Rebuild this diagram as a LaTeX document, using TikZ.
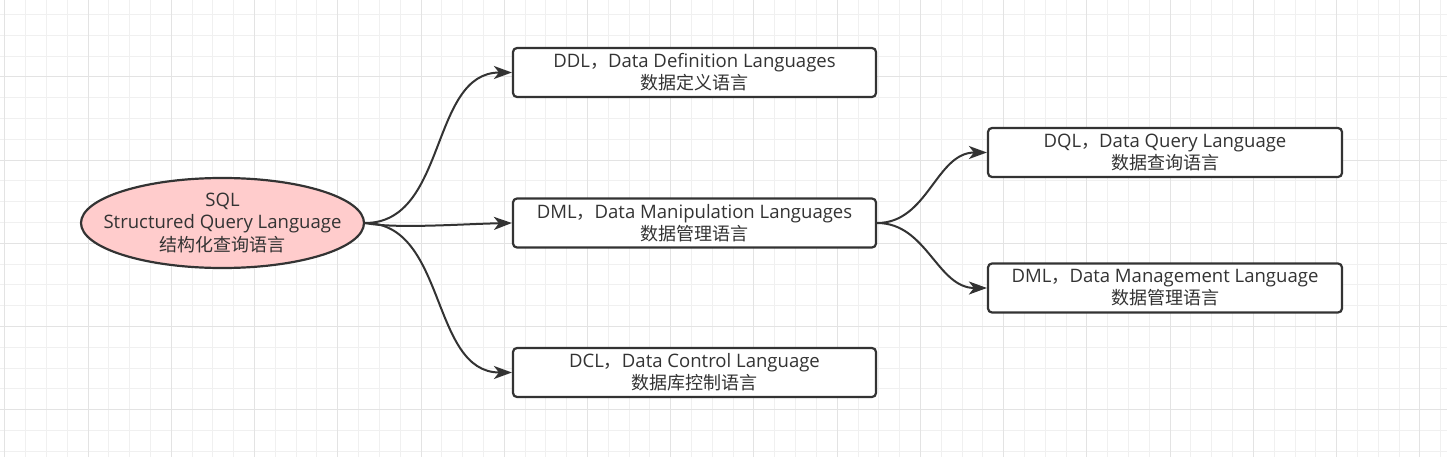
\documentclass[tikz,border=0pt]{standalone}
\usepackage{fontspec}
\setmainfont{Open Sans}[Scale=1.03]
\newfontfamily\cjk{Noto Sans CJK SC}
\usetikzlibrary{arrows.meta,shapes.geometric}
\definecolor{inkc}{HTML}{333333}
\definecolor{sqlfill}{HTML}{FFCCCC}
\definecolor{gridminor}{HTML}{F0F0F0}
\definecolor{gridmajor}{HTML}{E3E3E3}
\newcommand{\zh}[1]{{\cjk #1}}
\tikzset{
  rootnode/.style={ellipse, draw=inkc, fill=sqlfill, line width=2.2pt, minimum width=283pt,
               minimum height=90pt, inner xsep=-24pt, inner ysep=-8pt, align=center, text=inkc,
               font=\fontsize{18}{22.5}\selectfont},
  langbox/.style={draw=inkc, fill=white, line width=2.2pt, rounded corners=4pt, minimum width=#1,
               minimum height=49pt, inner sep=0pt, align=center, text=inkc,
               font=\fontsize{18}{22}\selectfont},
  langbox/.default=363pt,
  branch/.style={-{Stealth[length=18pt,width=13pt,inset=5pt]}, line width=2pt, draw=inkc},
  gridline/.style={draw=#1, line width=1pt},
}
\def\gs{20.81}
\def\cL{694.5}
\def\cR{1165}
\begin{document}
\begin{tikzpicture}[x=1pt,y=-1pt]
  \useasboundingbox (0,0) rectangle (1447,457);
  % background grid
  \fill[white] (0,0) rectangle (1447,457);
  \foreach \k in {0,...,69} \draw[gridline=gridminor] (4.8+\k*\gs,0) -- (4.8+\k*\gs,457);
  \foreach \k in {0,...,21} \draw[gridline=gridminor] (0,14.4+\k*\gs) -- (1447,14.4+\k*\gs);
  \foreach \k in {0,4,...,68} \draw[gridline=gridmajor] (4.8+\k*\gs,0) -- (4.8+\k*\gs,457);
  \foreach \k in {3,7,...,19} \draw[gridline=gridmajor] (0,14.4+\k*\gs) -- (1447,14.4+\k*\gs);

  \node[rootnode] (sql) at (222.5,223) {SQL\\Structured Query Language\\\zh{结构化查询语言}};
  \node[langbox] (ddl) at (\cL,72.5) {DDL\zh{，}Data Definition Languages\\\zh{数据定义语言}};
  \node[langbox] (dml) at (\cL,223) {DML\zh{，}Data Manipulation Languages\\\zh{数据管理语言}};
  \node[langbox] (dcl) at (\cL,372.5) {DCL\zh{，}Data Control Language\\\zh{数据库控制语言}};
  \node[langbox=354pt] (dql) at (\cR,152.5) {DQL\zh{，}Data Query Language\\\zh{数据查询语言}};
  \node[langbox=354pt] (dmg) at (\cR,288) {DML\zh{，}Data Management Language\\\zh{数据管理语言}};

  \draw[branch] (sql.east) to[out=0,in=180] (ddl.west);
  \draw[branch] (sql.east) .. controls +(30,6) and +(-50,1) .. (dml.west);
  \draw[branch] (sql.east) to[out=0,in=180] (dcl.west);
  \draw[branch] (dml.east) to[out=0,in=180] (dql.west);
  \draw[branch] (dml.east) to[out=0,in=180] (dmg.west);
\end{tikzpicture}
\end{document}
